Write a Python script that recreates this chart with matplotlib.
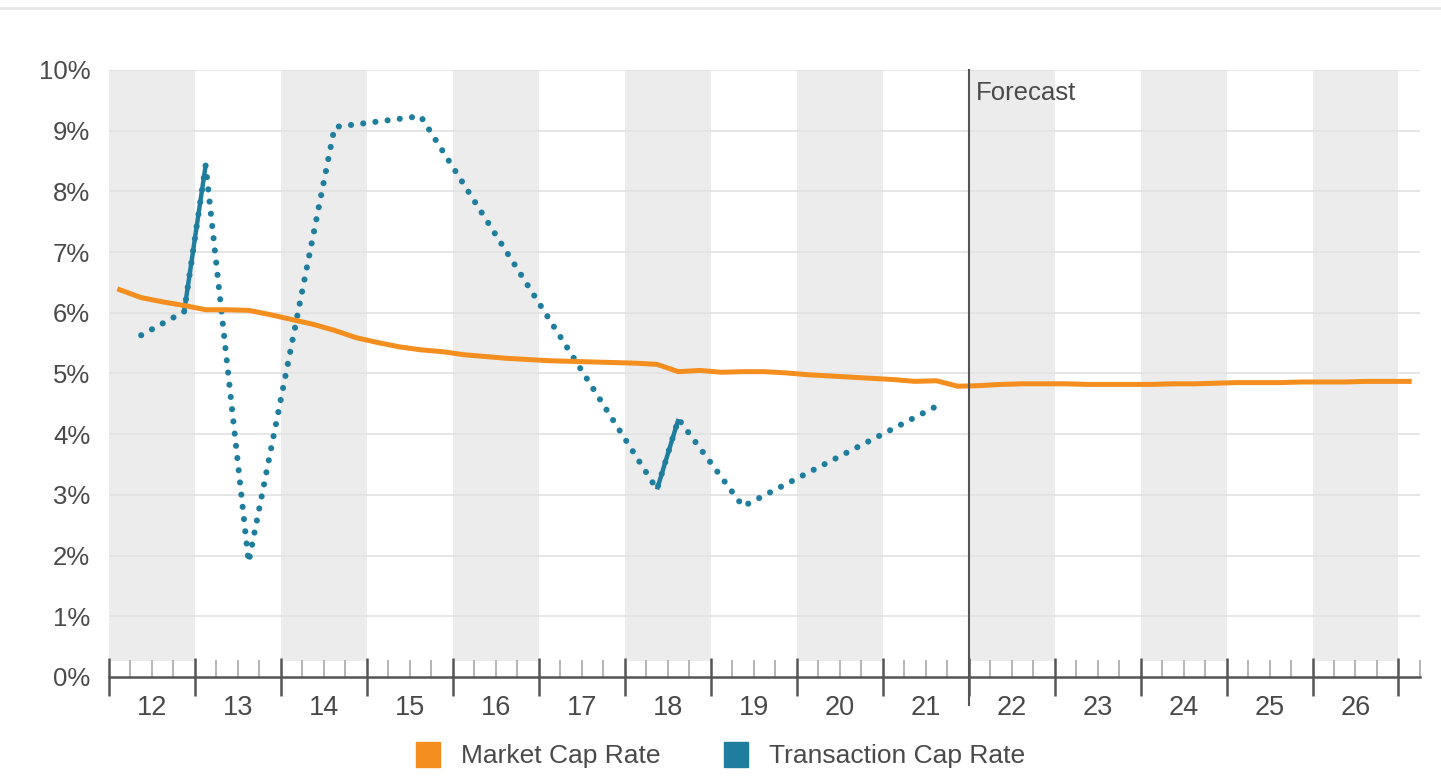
import numpy as np
import matplotlib
matplotlib.use('Agg')
import matplotlib.pyplot as plt
from matplotlib.patches import Patch

plt.rcParams['font.family'] = ['Liberation Sans', 'DejaVu Sans']

# quarterly series, 2012 Q1 .. 2027 Q1
start_year = 12
years = list(range(12, 27))
year_labels = [str(y) for y in years]
forecast_start = 22

market_cap = [6.38, 6.25, 6.18, 6.12,
              6.05, 6.05, 6.04, 5.97,
              5.89, 5.81, 5.71, 5.59,
              5.51, 5.44, 5.39, 5.36,
              5.31, 5.28, 5.25, 5.23,
              5.21, 5.20, 5.19, 5.18,
              5.17, 5.15, 5.03, 5.05,
              5.02, 5.03, 5.03, 5.01,
              4.98, 4.96, 4.94, 4.92,
              4.90, 4.87, 4.88, 4.79,
              4.80, 4.82, 4.83, 4.83,
              4.83, 4.82, 4.82, 4.82,
              4.82, 4.83, 4.83, 4.84,
              4.85, 4.85, 4.85, 4.86,
              4.86, 4.86, 4.87, 4.87,
              4.87]

nan = np.nan
transaction_cap = [nan, 5.63, nan, 6.02,
                   8.43, nan, 1.89, nan,
                   nan, nan, 9.06, nan,
                   nan, nan, 9.24, nan,
                   nan, nan, nan, nan,
                   nan, nan, nan, nan,
                   nan, 3.09, 4.25, nan,
                   nan, 2.81, nan, nan,
                   nan, nan, nan, nan,
                   nan, nan, 4.46, nan]

orange = '#f48e1f'
teal = '#1f7e9e'
txt = '#4a4a4a'
fs = 18.5

# quarter midpoints
xm = start_year + (np.arange(len(market_cap)) + 0.5) / 4
xt = start_year + (np.arange(len(transaction_cap)) + 0.5) / 4
tc = np.array(transaction_cap)

fig = plt.figure(figsize=(14.41, 7.76), dpi=100)
fig.patch.set_facecolor('white')
ax = fig.add_axes([0.0756, 0.1276, 0.9098, 0.7822])

# alternating year bands
for i, y in enumerate(years):
    if i % 2 == 0:
        ax.fill_between([y, y + 1], 0.27, 10, color='#ececec', lw=0, zorder=0)

ax.set_yticks(range(0, 11))
ax.set_yticklabels([f'{v}%' for v in range(0, 11)])
for v in range(1, 11):
    ax.axhline(v, color='#e2e2e2', lw=1.2, zorder=1)

# transaction cap rate: dotted across gaps, solid between consecutive quarters
ok = ~np.isnan(tc)
ax.plot(xt[ok], tc[ok], color=teal, lw=4.4, linestyle=(0, (0.01, 2.0)),
        dash_capstyle='round', zorder=3)
ax.plot(xt, tc, color=teal, lw=3.2, solid_capstyle='butt', zorder=4)

ax.plot(xm, market_cap, color=orange, lw=3.6, zorder=5)

# forecast divider
ax.axvline(forecast_start, ymin=-0.046, ymax=1.0, color='#555555', lw=1.5,
           clip_on=False, zorder=6)
ax.text(forecast_start + 0.08, 9.62, 'Forecast', color=txt, fontsize=fs,
        va='center', ha='left')

ax.set_xlim(12, 27.25)
ax.set_ylim(0, 10)

for s in ['top', 'right', 'left']:
    ax.spines[s].set_visible(False)
ax.spines['bottom'].set_color('#555555')
ax.spines['bottom'].set_linewidth(1.8)

ax.set_xticks(range(12, 28))
ax.set_xticklabels([])
ax.set_xticks([q / 4 for q in range(48, 110) if q % 4 != 0], minor=True)
ax.tick_params(axis='x', which='major', direction='inout', length=28,
               width=1.8, color='#555555')
ax.tick_params(axis='x', which='minor', direction='in', length=12,
               width=1.2, color='#a8a8a8')
ax.tick_params(axis='y', length=0, pad=13.5, labelsize=fs, labelcolor=txt)

sec = ax.secondary_xaxis('bottom')
sec.set_xticks([y + 0.5 for y in years])
sec.set_xticklabels(year_labels)
sec.tick_params(length=0, pad=13, labelsize=19.5, labelcolor=txt)
sec.spines['bottom'].set_visible(False)

handles = [Patch(color=orange), Patch(color=teal)]
fig.legend(handles, ['Market Cap Rate', 'Transaction Cap Rate'], loc='center',
           bbox_to_anchor=(0.5, 0.027), ncol=2, frameon=False, fontsize=19,
           handlelength=0.9, handleheight=1.1, handletextpad=0.8,
           columnspacing=2.4, labelcolor=txt)

fig.add_artist(plt.Line2D([0.0, 1.0], [0.99, 0.99], color='#e6e6e6', lw=2))

fig.savefig('out.png', dpi=100, facecolor='white')
